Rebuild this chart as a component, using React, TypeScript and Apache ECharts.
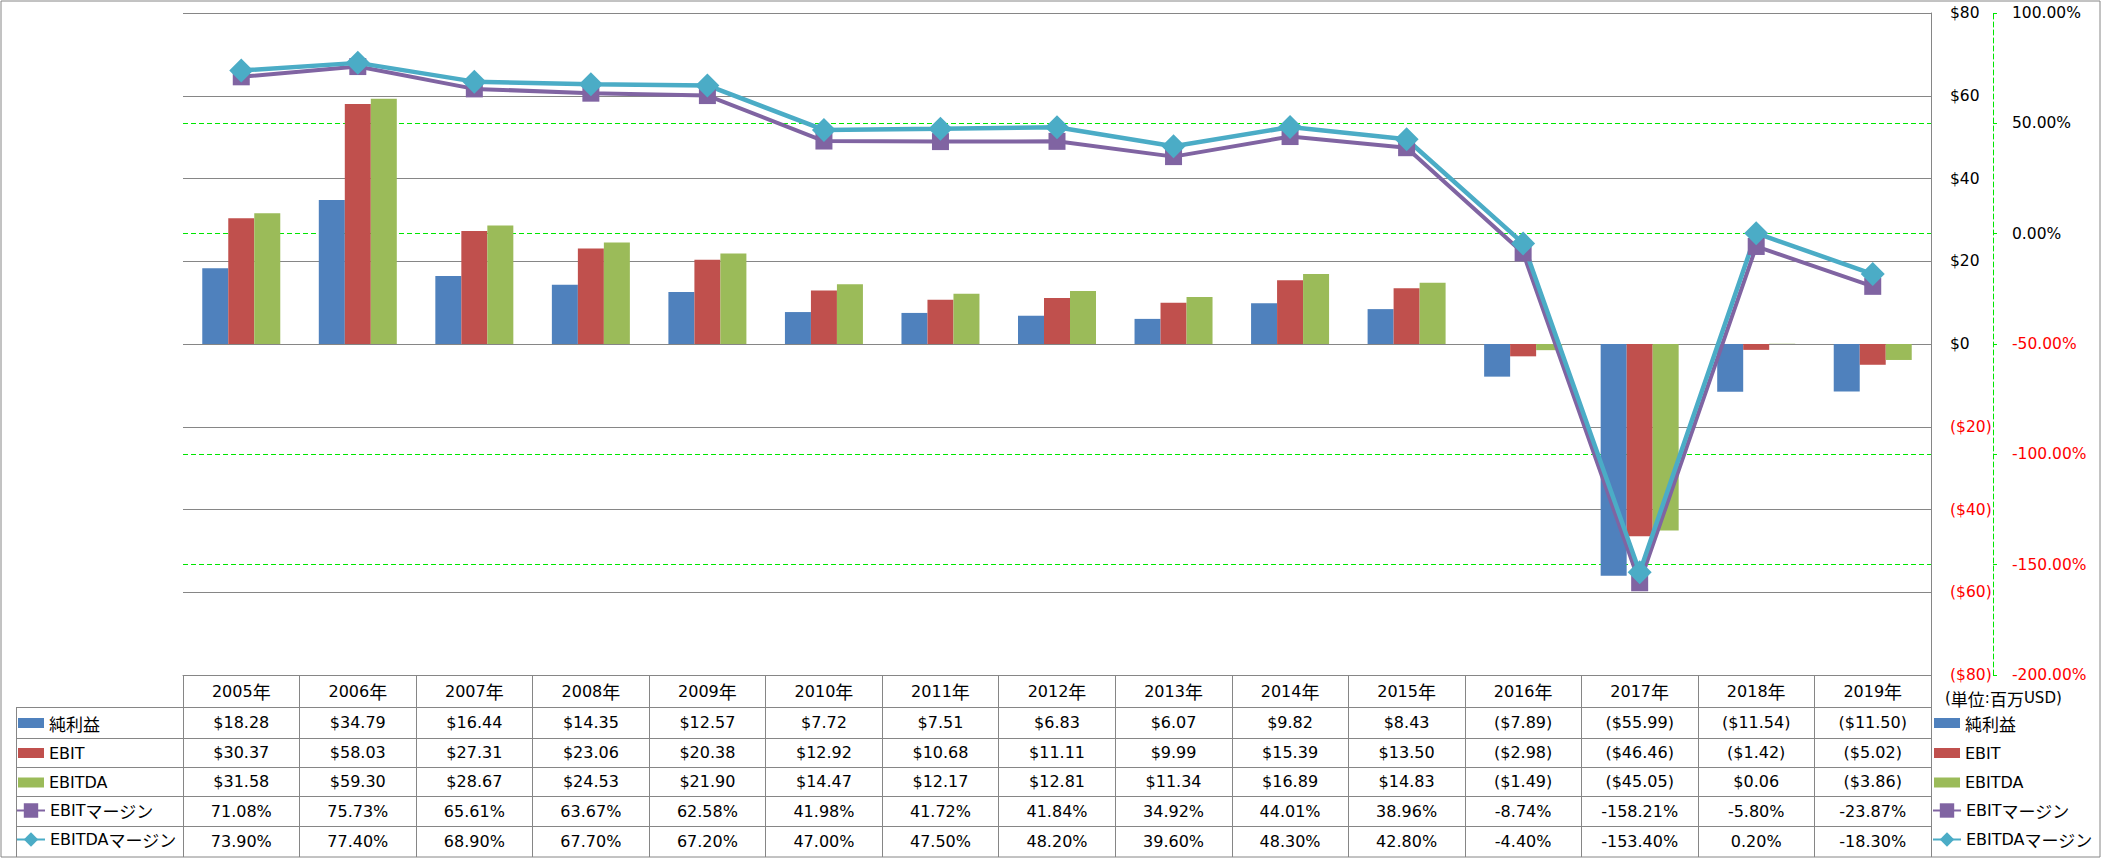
import React, { useEffect, useRef } from 'react';
import * as echarts from 'echarts';

const categories = ['2005年', '2006年', '2007年', '2008年', '2009年', '2010年', '2011年', '2012年', '2013年', '2014年', '2015年', '2016年', '2017年', '2018年', '2019年'];
const netIncome = [18.28, 34.79, 16.44, 14.35, 12.57, 7.72, 7.51, 6.83, 6.07, 9.82, 8.43, -7.89, -55.99, -11.54, -11.5];
const ebit = [30.37, 58.03, 27.31, 23.06, 20.38, 12.92, 10.68, 11.11, 9.99, 15.39, 13.5, -2.98, -46.46, -1.42, -5.02];
const ebitda = [31.58, 59.3, 28.67, 24.53, 21.9, 14.47, 12.17, 12.81, 11.34, 16.89, 14.83, -1.49, -45.05, 0.06, -3.86];
const ebitMargin = [71.08, 75.73, 65.61, 63.67, 62.58, 41.98, 41.72, 41.84, 34.92, 44.01, 38.96, -8.74, -158.21, -5.8, -23.87];
const ebitdaMargin = [73.9, 77.4, 68.9, 67.7, 67.2, 47.0, 47.5, 48.2, 39.6, 48.3, 42.8, -4.4, -153.4, 0.2, -18.3];
const seriesNames = ['純利益', 'EBIT', 'EBITDA', 'EBITマージン', 'EBITDAマージン'];
const unitNote = '(単位:百万USD)';

const W = 2101;
const H = 858;
const GRID_L = 183;
const GRID_R = 1931;
const GRID_T = 13;
const GRID_B = 675;
const TABLE_LEFT = 16.5;
const ROW_LINES = [707, 738, 767, 796, 826];
const ROW_CENTERS = [722.5, 752.5, 781.5, 811, 841];

const GRAY = '#868686';
const GREEN = '#00E600';
const RED = '#FF0000';
const COLORS = ['#4F81BD', '#C0504D', '#9BBB59', '#8064A2', '#4BACC6'];
const FONT_LATIN = '"DejaVu Sans", sans-serif';
const FONT_CJK = '"Noto Sans CJK JP", sans-serif';

function richName(s: string): string {
  const parts = s.match(/[\x00-\x7F]+|[^\x00-\x7F]+/g) || [];
  return parts.map((p) => (/^[\x00-\x7F]+$/.test(p) ? `{l|${p}}` : `{c|${p}}`)).join('');
}

const fmtMoney = (v: number) => (v < 0 ? `($${Math.abs(v).toFixed(2)})` : `$${v.toFixed(2)}`);
const fmtPct = (v: number) => `${v.toFixed(2)}%`;

const legendRich = {
  l: { fontFamily: FONT_LATIN, fontSize: 16, color: '#000', lineHeight: 16 },
  c: { fontFamily: FONT_CJK, fontSize: 17, color: '#000', lineHeight: 16 },
};
const headRich = {
  l: { fontFamily: FONT_LATIN, fontSize: 16, color: '#000', lineHeight: 16 },
  c: { fontFamily: FONT_CJK, fontSize: 18, color: '#000', lineHeight: 16 },
};
const noteRich = {
  l: { fontFamily: FONT_LATIN, fontSize: 15, color: '#000', lineHeight: 16 },
  c: { fontFamily: FONT_CJK, fontSize: 17, color: '#000', lineHeight: 16 },
};

const tableRows = [
  { data: netIncome, fmt: fmtMoney },
  { data: ebit, fmt: fmtMoney },
  { data: ebitda, fmt: fmtMoney },
  { data: ebitMargin, fmt: fmtPct },
  { data: ebitdaMargin, fmt: fmtPct },
];

export default function App() {
  const ref = useRef<HTMLDivElement>(null);
  useEffect(() => {
    if (!ref.current) return;
    const chart = echarts.init(ref.current, undefined, { renderer: 'svg' });

    const barLegend = {
      orient: 'vertical',
      top: ROW_CENTERS[0] - 8,
      itemWidth: 26,
      itemHeight: 10,
      itemGap: (ROW_CENTERS[2] - ROW_CENTERS[0]) / 2 - 16,
      padding: 0,
      selectedMode: false,
      data: seriesNames.slice(0, 3).map((n) => ({ name: n, icon: 'rect' })),
      formatter: (name: string) => richName(name),
      textStyle: { rich: legendRich, lineHeight: 16 },
    };
    const lineLegend = {
      orient: 'vertical',
      top: ROW_CENTERS[3] - 9,
      itemWidth: 28,
      itemHeight: 18,
      itemGap: ROW_CENTERS[4] - ROW_CENTERS[3] - 18,
      padding: 0,
      selectedMode: false,
      data: seriesNames.slice(3),
      formatter: (name: string) => richName(name),
      textStyle: { rich: legendRich, lineHeight: 16 },
    };

    const xAxes: any[] = [
      {
        type: 'category',
        data: categories,
        gridIndex: 0,
        position: 'bottom',
        boundaryGap: true,
        axisLine: { show: true, onZero: false, lineStyle: { color: GRAY, width: 1 } },
        axisTick: { show: true, alignWithLabel: false, length: H - 1 - GRID_B, lineStyle: { color: GRAY } },
        axisLabel: {
          interval: 0,
          margin: 16,
          verticalAlign: 'middle',
          formatter: (v: string) => richName(v),
          rich: headRich,
        },
        splitLine: { show: false },
      },
      ...tableRows.map((r, i) => ({
        type: 'category',
        data: categories,
        gridIndex: 0,
        position: 'bottom',
        boundaryGap: true,
        axisLine: { show: false },
        axisTick: { show: false },
        splitLine: { show: false },
        axisLabel: {
          interval: 0,
          margin: ROW_CENTERS[i] - GRID_B,
          verticalAlign: 'middle',
          fontFamily: FONT_LATIN,
          fontSize: 16,
          color: '#000',
          formatter: (_v: string, idx: number) => r.fmt(r.data[idx]),
        },
      })),
    ];

    const option: any = {
      animation: false,
      backgroundColor: '#fff',
      grid: { left: GRID_L, right: W - GRID_R, top: GRID_T, bottom: H - GRID_B, containLabel: false },
      legend: [
        { ...barLegend, left: 18 },
        { ...lineLegend, left: 16 },
        { ...barLegend, left: 1934 },
        { ...lineLegend, left: 1932 },
      ],
      xAxis: xAxes,
      yAxis: [
        {
          type: 'value',
          position: 'right',
          offset: 62,
          min: -200,
          max: 100,
          interval: 50,
          axisLine: { show: true, lineStyle: { color: GREEN, type: [5, 3], width: 1 } },
          axisTick: { show: true, length: 4, lineStyle: { color: GREEN } },
          axisLabel: {
            margin: 19,
            fontFamily: FONT_LATIN,
            fontSize: 15.5,
            formatter: (v: number) => fmtPct(v),
            color: (v: any) => (Number(v) < 0 ? RED : '#000'),
          },
          splitLine: { show: true, lineStyle: { color: GREEN, type: [5, 3], width: 1 } },
        },
        {
          type: 'value',
          position: 'right',
          offset: 0,
          min: -80,
          max: 80,
          interval: 20,
          axisLine: { show: true, lineStyle: { color: GRAY, width: 1 } },
          axisTick: { show: false },
          axisLabel: {
            margin: 19,
            fontFamily: FONT_LATIN,
            fontSize: 15.5,
            formatter: (v: number) => (v < 0 ? `($${Math.abs(v)})` : `$${v}`),
            color: (v: any) => (Number(v) < 0 ? RED : '#000'),
          },
          splitLine: { show: true, lineStyle: { color: GRAY, width: 1 } },
        },
      ],
      series: [
        { name: seriesNames[0], type: 'bar', xAxisIndex: 0, yAxisIndex: 1, data: netIncome, barWidth: 26, barGap: '0%', itemStyle: { color: COLORS[0] } },
        { name: seriesNames[1], type: 'bar', xAxisIndex: 0, yAxisIndex: 1, data: ebit, barWidth: 26, barGap: '0%', itemStyle: { color: COLORS[1] } },
        { name: seriesNames[2], type: 'bar', xAxisIndex: 0, yAxisIndex: 1, data: ebitda, barWidth: 26, barGap: '0%', itemStyle: { color: COLORS[2] } },
        {
          name: seriesNames[3], type: 'line', xAxisIndex: 0, yAxisIndex: 0, data: ebitMargin,
          symbol: 'rect', symbolSize: 17,
          lineStyle: { color: COLORS[3], width: 4 }, itemStyle: { color: COLORS[3] },
        },
        {
          name: seriesNames[4], type: 'line', xAxisIndex: 0, yAxisIndex: 0, data: ebitdaMargin,
          symbol: 'diamond', symbolSize: 24,
          lineStyle: { color: COLORS[4], width: 4.5 }, itemStyle: { color: COLORS[4] },
        },
      ],
      graphic: [
        { type: 'rect', silent: true, shape: { x: 1, y: 1, width: W - 2, height: H - 2 }, style: { fill: 'none', stroke: GRAY, lineWidth: 1 } },
        ...ROW_LINES.map((y) => ({
          type: 'line', silent: true,
          shape: { x1: TABLE_LEFT, y1: y + 0.5, x2: GRID_R, y2: y + 0.5 },
          style: { stroke: GRAY, lineWidth: 1 },
        })),
        { type: 'line', silent: true, shape: { x1: TABLE_LEFT, y1: ROW_LINES[0], x2: TABLE_LEFT, y2: H - 1 }, style: { stroke: GRAY, lineWidth: 1 } },
        {
          type: 'text', silent: true, x: 1945, y: 698,
          style: { text: richName(unitNote), rich: noteRich, verticalAlign: 'middle', align: 'left' },
        },
      ],
    };
    chart.setOption(option);
    return () => chart.dispose();
  }, []);

  return <div ref={ref} style={{ position: 'absolute', left: 0, top: 0, width: W, height: H }} />;
}
